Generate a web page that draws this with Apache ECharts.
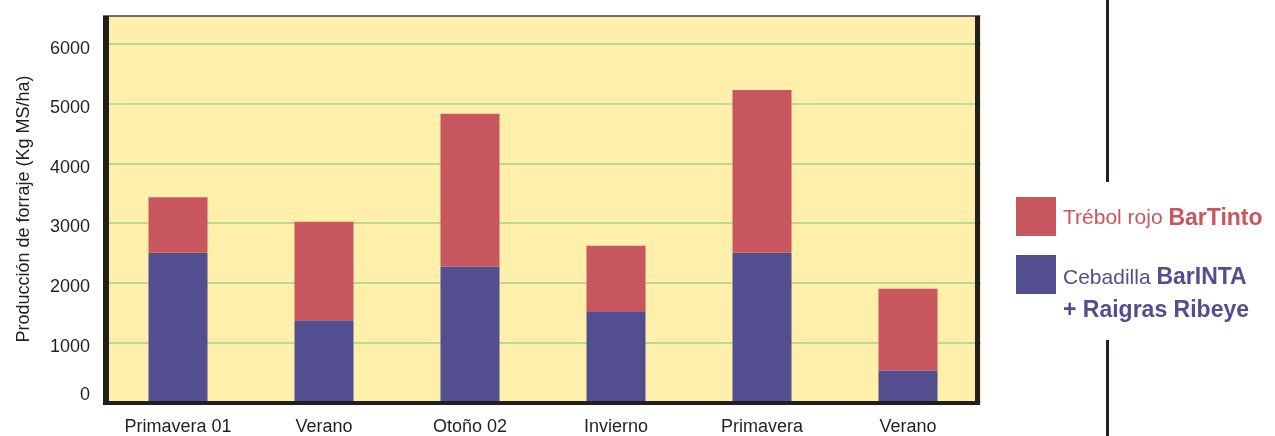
<!DOCTYPE html>
<html>
<head>
<meta charset="utf-8">
<script src="https://cdn.jsdelivr.net/npm/echarts@6/dist/echarts.min.js"></script>
<style>
html,body{margin:0;padding:0;background:#fff;}
#c{width:1275px;height:436px;}
</style>
</head>
<body>
<div id="c"></div>
<script>
const categories = ['Primavera 01', 'Verano', 'Otoño 02', 'Invierno', 'Primavera', 'Verano'];
const cebadillaValues = [2500, 1370, 2270, 1520, 2500, 530];
const trebolValues = [930, 1650, 2560, 1100, 2730, 1370];
const yTicks = [0, 1000, 2000, 3000, 4000, 5000, 6000];
const seriesNames = ['Trébol rojo BarTinto', 'Cebadilla BarINTA + Raigras Ribeye'];
const yAxisTitle = 'Producción de forraje (Kg MS/ha)';

const RED = '#c8565e';
const BLUE = '#524e8f';
const INK = '#231f20';
const FONT = '"Liberation Sans", Arial, sans-serif';

const chart = echarts.init(document.getElementById('c'), null, {renderer: 'canvas'});

const option = {
  animation: false,
  backgroundColor: '#ffffff',
  grid: {
    left: 105, right: 294, top: 16, bottom: 32,
    show: true, backgroundColor: '#feefaa', borderWidth: 0
  },
  xAxis: {
    type: 'category',
    data: categories,
    axisLine: {show: false},
    axisTick: {show: false},
    axisLabel: {fontFamily: FONT, fontSize: 18, color: INK, margin: 16, interval: 0},
    splitLine: {show: false}
  },
  yAxis: {
    type: 'value',
    min: 0, max: 6470, interval: 1000,
    name: yAxisTitle,
    nameLocation: 'middle',
    nameGap: 72,
    nameTextStyle: {fontFamily: FONT, fontSize: 18, color: INK},
    axisLine: {show: false},
    axisTick: {show: false},
    axisLabel: {
      fontFamily: FONT, fontSize: 18, color: INK, margin: 15,
      rich: {
        n: {fontFamily: FONT, fontSize: 18, color: INK, padding: [9, 0, 0, 0]},
        z: {fontFamily: FONT, fontSize: 18, color: INK, padding: [0, 0, 14, 0]}
      },
      formatter: function (v) {
        if (yTicks.indexOf(v) < 0) return '';
        return v === 0 ? '{z|0}' : '{n|' + v + '}';
      }
    },
    splitLine: {show: true, lineStyle: {color: '#a9cf91', width: 1.5}}
  },
  legend: [
    {
      orient: 'vertical', left: 1016, top: 197, padding: 0,
      itemWidth: 40, itemHeight: 39,
      icon: 'rect',
      selectedMode: false,
      data: [{name: seriesNames[0], textStyle: {color: RED}}],
      textStyle: {
        fontFamily: FONT, fontSize: 21, padding: [4, 0, 0, 2],
        rich: {
          r: {fontFamily: FONT, fontSize: 21, color: RED},
          b: {fontFamily: FONT, fontSize: 23, fontWeight: 'bold', color: RED}
        }
      },
      formatter: function () { return '{r|Trébol rojo }{b|BarTinto}'; }
    },
    {
      orient: 'vertical', left: 1016, top: 255, padding: 0,
      itemWidth: 40, itemHeight: 39,
      icon: 'rect',
      selectedMode: false,
      data: [{name: seriesNames[1], textStyle: {color: BLUE}}],
      textStyle: {
        fontFamily: FONT, fontSize: 21, padding: [40, 0, 0, 2],
        rich: {
          r: {fontFamily: FONT, fontSize: 21, color: BLUE, lineHeight: 33},
          b: {fontFamily: FONT, fontSize: 23, fontWeight: 'bold', color: BLUE, lineHeight: 33}
        }
      },
      formatter: function () { return '{r|Cebadilla }{b|BarINTA}\n{b|+ Raigras Ribeye}'; }
    }
  ],
  series: [
    {
      name: seriesNames[1], type: 'bar', stack: 'total',
      data: cebadillaValues, barWidth: 59,
      itemStyle: {color: BLUE}
    },
    {
      name: seriesNames[0], type: 'bar', stack: 'total',
      data: trebolValues, barWidth: 59,
      itemStyle: {color: RED}
    }
  ],
  graphic: [
    {type: 'rect', z: 100, shape: {x: 103, y: 15, width: 877, height: 2}, style: {fill: '#6d6d6d'}},
    {type: 'rect', z: 100, shape: {x: 103, y: 16, width: 6, height: 389}, style: {fill: INK}},
    {type: 'rect', z: 100, shape: {x: 975, y: 16, width: 5, height: 389}, style: {fill: INK}},
    {type: 'rect', z: 100, shape: {x: 103, y: 401, width: 877, height: 4}, style: {fill: INK}},
    {type: 'rect', z: 100, shape: {x: 1106, y: 0, width: 3, height: 182}, style: {fill: INK}},
    {type: 'rect', z: 100, shape: {x: 1106, y: 340, width: 3, height: 96}, style: {fill: INK}}
  ]
};
chart.setOption(option);
</script>
</body>
</html>
